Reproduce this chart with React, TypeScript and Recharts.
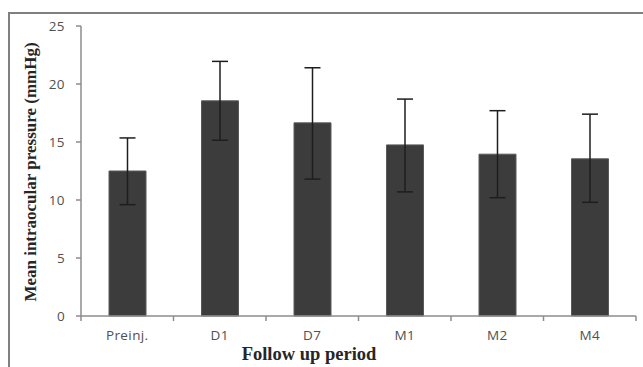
import { Bar, BarChart, ErrorBar, XAxis, YAxis } from 'recharts';

const periods = ['Preinj.', 'D1', 'D7', 'M1', 'M2', 'M4'];
const meanIop = [12.5, 18.55, 16.65, 14.75, 13.95, 13.55];
const upperIop = [15.35, 21.95, 21.4, 18.7, 17.7, 17.4];
const lowerIop = [9.6, 15.15, 11.8, 10.7, 10.2, 9.8];
const yTicks = [0, 5, 10, 15, 20, 25];

const data = periods.map((period, i) => ({
  period,
  mean: meanIop[i],
  err: [meanIop[i] - lowerIop[i], upperIop[i] - meanIop[i]],
}));

const tickStyle = {
  fontSize: 13.5,
  fill: '#505050',
  fontFamily: '"Open Sans", sans-serif',
  letterSpacing: 0.4,
};

// category tick with the little marks between bands, like excel draws
const PeriodTick = (props: any) => {
  const { x, y, payload, index, visibleTicksCount } = props;
  const half = payload.offset ?? 0;
  const last = index === visibleTicksCount - 1;
  return (
    <g>
      <line x1={x - half} y1={y} x2={x - half} y2={y + 5} stroke='#8c8c8c' strokeWidth={1.5} />
      {last && (
        <line x1={x + half} y1={y} x2={x + half} y2={y + 5} stroke='#8c8c8c' strokeWidth={1.5} />
      )}
      <text x={x} y={y + 14} dy='0.71em' textAnchor='middle' {...tickStyle}>
        {payload.value}
      </text>
    </g>
  );
};

const App = () => {
  return (
    <div
      style={{
        position: 'absolute',
        left: 0,
        top: 0,
        width: 643,
        height: 367,
        background: '#fff',
        overflow: 'hidden',
      }}
    >
      <div
        style={{
          position: 'absolute',
          left: 8,
          top: 12,
          width: 700,
          height: 400,
          borderLeft: '2px solid #808080',
          borderTop: '2px solid #808080',
        }}
      />
      <div style={{ position: 'absolute', left: 0, top: 0 }}>
        <BarChart
          width={643}
          height={367}
          data={data}
          margin={{ top: 26, right: 7, left: 0, bottom: 0 }}
        >
          <XAxis
            dataKey='period'
            height={51}
            stroke='#8c8c8c'
            strokeWidth={1.5}
            tickLine={false}
            tickSize={0}
            tickMargin={0}
            tick={<PeriodTick />}
            interval={0}
          />
          <YAxis
            width={81}
            domain={[0, 25]}
            ticks={yTicks}
            tickSize={5}
            tickMargin={11}
            stroke='#8c8c8c'
            strokeWidth={1.5}
            tick={tickStyle}
          />
          <Bar
            dataKey='mean'
            barSize={37}
            fill='#3c3c3c'
            stroke='#5a5a5a'
            strokeWidth={1}
            isAnimationActive={false}
          >
            <ErrorBar
              dataKey='err'
              width={8}
              stroke='#1e1e1e'
              strokeWidth={1.5}
              direction='y'
            />
          </Bar>
          <text
            x={309}
            y={360}
            textAnchor='middle'
            fontFamily='"Liberation Serif", serif'
            fontWeight='bold'
            fontSize={18.5}
            fill='#262626'
          >
            Follow up period
          </text>
          <text
            x={30}
            y={172}
            transform='rotate(-90, 30, 172)'
            textAnchor='middle'
            dominantBaseline='central'
            fontFamily='"Liberation Serif", serif'
            fontWeight='bold'
            fontSize={17}
            fill='#262626'
          >
            Mean intraocular pressure (mmHg)
          </text>
        </BarChart>
      </div>
    </div>
  );
};

export default App;
